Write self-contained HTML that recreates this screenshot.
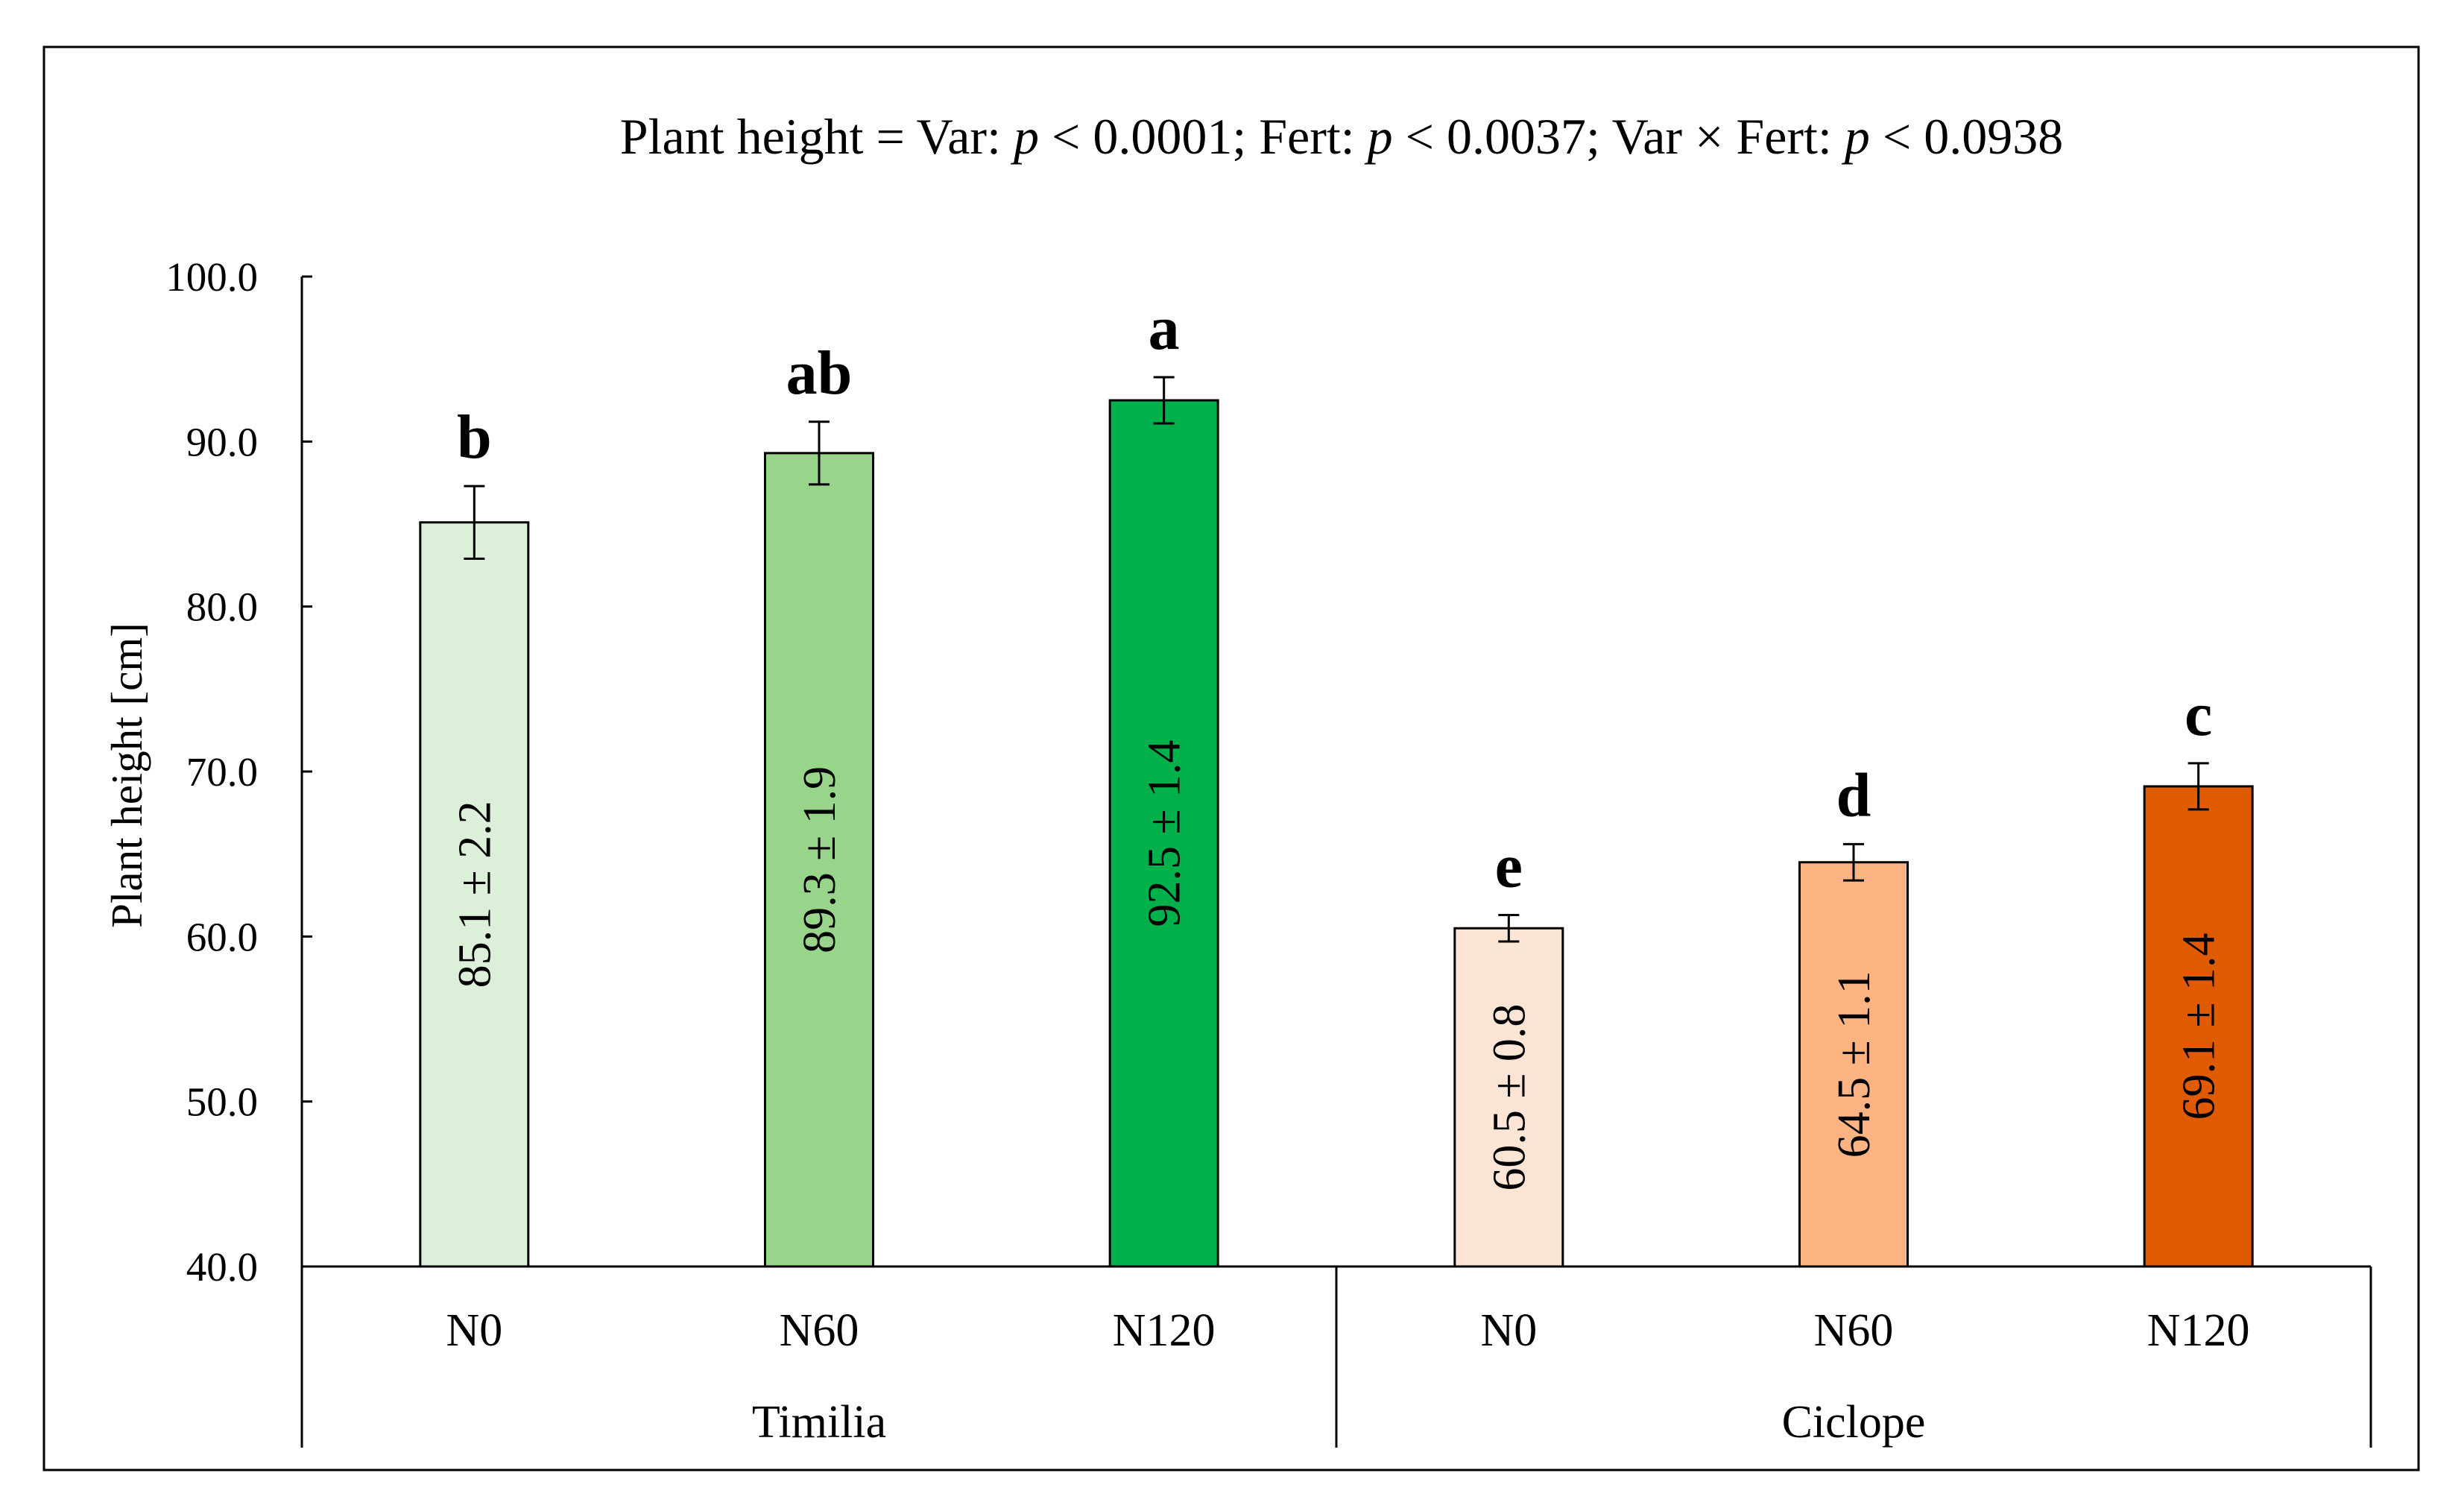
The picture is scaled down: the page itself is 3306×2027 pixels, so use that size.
<!DOCTYPE html>
<html><head><meta charset="utf-8">
<style>
html,body{margin:0;padding:0;background:#fff;}
svg{display:block;font-family:"Liberation Serif",serif;}
</style></head>
<body>
<svg id="chart" width="3306" height="2027" viewBox="0 0 3306 2027" xmlns="http://www.w3.org/2000/svg">
<rect x="59" y="63" width="3186" height="1909" fill="none" stroke="#000" stroke-width="3"/>
<text x="1800" y="206" font-size="68" text-anchor="middle">Plant height = Var: <tspan font-style="italic">p</tspan> &lt; 0.0001; Fert: <tspan font-style="italic">p</tspan> &lt; 0.0037; Var × Fert: <tspan font-style="italic">p</tspan> &lt; 0.0938</text>
<text transform="translate(190,1040) rotate(-90)" font-size="59" text-anchor="middle">Plant height [cm]</text>
<g id="plot"></g>
</svg>
<script>
const categories = ["N0","N60","N120","N0","N60","N120"];
const groups = ["Timilia","Ciclope"];
const means = [85.1, 89.3, 92.5, 60.5, 64.5, 69.1];
const errors = [2.2, 1.9, 1.4, 0.8, 1.1, 1.4];
const letters = ["b","ab","a","e","d","c"];
const yTicks = [40,50,60,70,80,90,100];
const colors = ["#dcefd9","#98d48a","#00b04a","#fde5d6","#fdb382","#e05a00"];

const NS = "http://www.w3.org/2000/svg";
const plot = document.getElementById("plot");
const x0 = 405, x1 = 3181, yMin = 40, yMax = 100, yTop = 371, yBot = 1699;
const catW = (x1 - x0) / categories.length;
const barW = 145;
function yScale(v){ return yBot - (v - yMin) / (yMax - yMin) * (yBot - yTop); }
function xCenter(i){ return x0 + catW * (i + 0.5); }
function mk(tag, attrs){ const e = document.createElementNS(NS, tag); for (const k in attrs) e.setAttribute(k, attrs[k]); plot.appendChild(e); return e; }

let ax = mk("line", {x1:x0, y1:yTop, x2:x0, y2:yBot, stroke:"#000", "stroke-width":3});


yTicks.forEach(t => {
  const y = yScale(t);
  const tk = mk("line", {x1:x0, y1:y, x2:x0+14, y2:y, stroke:"#000", "stroke-width":3});
  
  
  const lb = mk("text", {x:346, y:y+19, "font-size":55, "text-anchor":"end"});
  lb.textContent = t.toFixed(1);
  
  
});

means.forEach((m, i) => {
  const cx = xCenter(i), y = yScale(m);
  const r = mk("rect", {x:cx-barW/2, y:y, width:barW, height:yBot-y, fill:colors[i], stroke:"#000", "stroke-width":3});
  
  
  const yh = yScale(m + errors[i]), yl = yScale(m - errors[i]);
  const eb = mk("path", {d:`M${cx},${yh}V${yl}M${cx-14},${yh}H${cx+14}M${cx-14},${yl}H${cx+14}`, stroke:"#000", "stroke-width":3, fill:"none"});
  
  
  const lt = mk("text", {x:cx, y:yh-38, "font-size":84, "font-weight":"bold", "text-anchor":"middle"});
  lt.textContent = letters[i];
  
  
  const my = (y + yBot) / 2;
  const vl = mk("text", {transform:`translate(${cx+21},${my}) rotate(-90)`, "font-size":62, "text-anchor":"middle"});
  vl.textContent = m.toFixed(1) + " ± " + errors[i].toFixed(1);
  
  
  const cl = mk("text", {x:cx, y:1805, "font-size":62, "text-anchor":"middle"});
  cl.textContent = categories[i];
  
  
});

let xa = mk("line", {x1:x0, y1:yBot, x2:x1, y2:yBot, stroke:"#000", "stroke-width":3});


[0, 3, 6].forEach(k => {
  const x = x0 + catW * k;
  const d = mk("line", {x1:x, y1:yBot, x2:x, y2:1942, stroke:"#000", "stroke-width":3});
  
  
});
groups.forEach((g, j) => {
  const gl = mk("text", {x:x0 + catW * (3*j + 1.5), y:1928, "font-size":62, "text-anchor":"middle"});
  gl.textContent = g;
  
  
});
</script>
</body></html>
